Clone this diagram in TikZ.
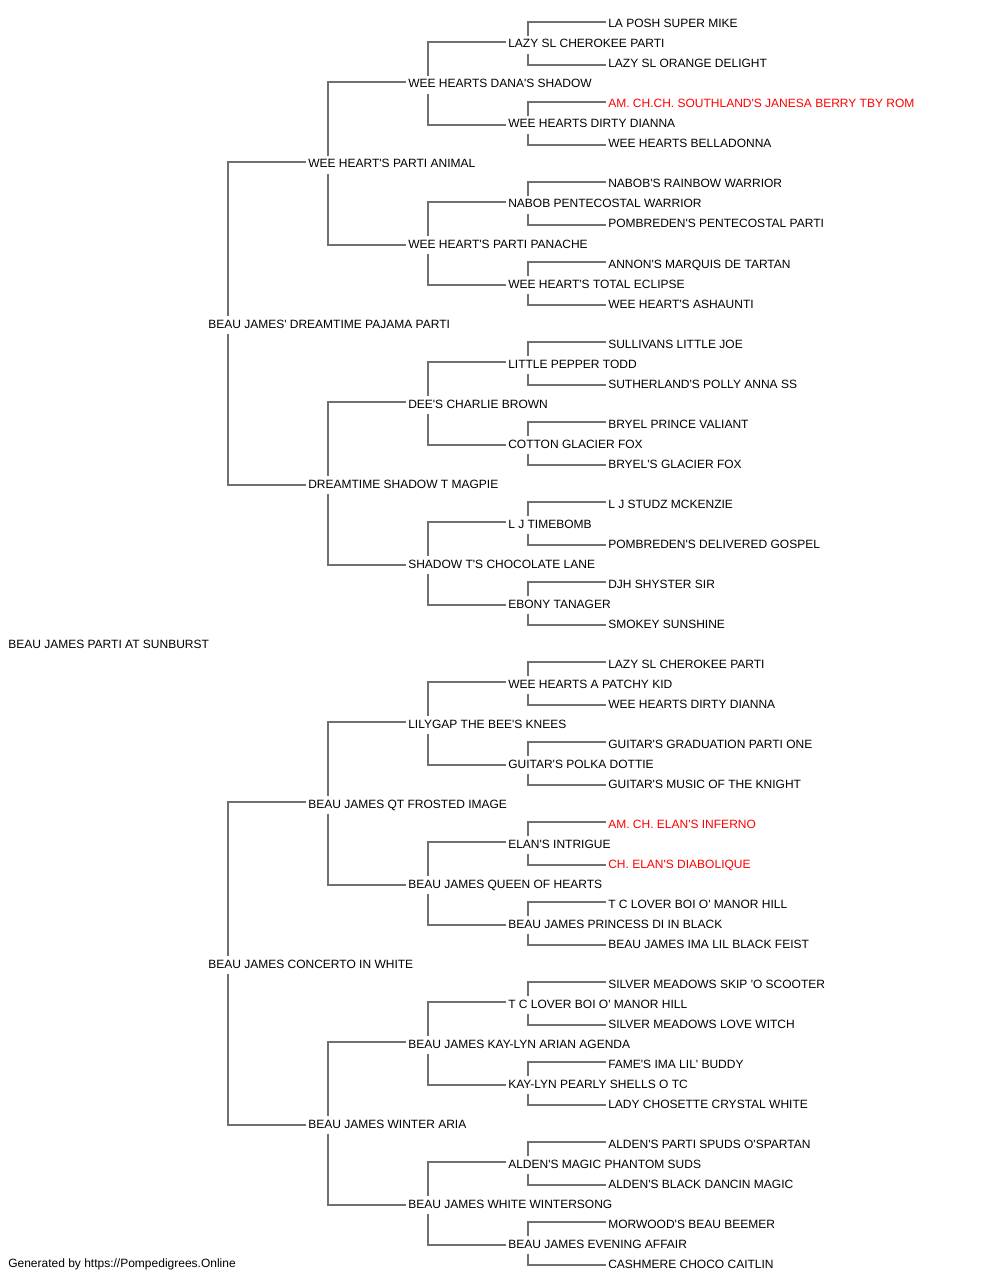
\documentclass[tikz,border=0pt]{standalone}
\usepackage{fontspec}
\newfontfamily\pedfont{Liberation Sans}
\definecolor{linkgray}{RGB}{112,112,112}
\definecolor{champred}{RGB}{255,0,0}

\begin{document}
\begin{tikzpicture}[
x=0.75pt, y=-0.75pt,
dog/.style={
  anchor=base west,
  inner xsep=1.5pt,
  inner ysep=0pt,
  text height=9pt,
  text depth=4.5pt,
  font=\pedfont\fontsize{9pt}{10pt}\selectfont
  },
champ/.style={dog, text=champred},
link/.style={draw=linkgray, line width=0.8pt}
]
\useasboundingbox (0,0) rectangle (1000,1280);
% subject
\node[dog] (g0-0) at (6,648) {BEAU JAMES PARTI AT SUNBURST};
% parents
\foreach \K/\Name in {0/BEAU JAMES' DREAMTIME PAJAMA PARTI,1/BEAU JAMES CONCERTO IN WHITE}
  \node[dog] (g1-\K) at (206,{328+640*\K}) {\Name};
% grandparents
\foreach \K/\Name in {0/WEE HEART'S PARTI ANIMAL,1/DREAMTIME SHADOW T MAGPIE,
  2/BEAU JAMES QT FROSTED IMAGE,3/BEAU JAMES WINTER ARIA}
  \node[dog] (g2-\K) at (306,{168+320*\K}) {\Name};
% great-grandparents
\foreach \K/\Name in {0/WEE HEARTS DANA'S SHADOW,1/WEE HEART'S PARTI PANACHE,
  2/DEE'S CHARLIE BROWN,3/SHADOW T'S CHOCOLATE LANE,4/LILYGAP THE BEE'S KNEES,
  5/BEAU JAMES QUEEN OF HEARTS,6/BEAU JAMES KAY-LYN ARIAN AGENDA,
  7/BEAU JAMES WHITE WINTERSONG}
  \node[dog] (g3-\K) at (406,{88+160*\K}) {\Name};
% generation 4
\foreach \K/\Name in {0/LAZY SL CHEROKEE PARTI,1/WEE HEARTS DIRTY DIANNA,
  2/NABOB PENTECOSTAL WARRIOR,3/WEE HEART'S TOTAL ECLIPSE,4/LITTLE PEPPER TODD,
  5/COTTON GLACIER FOX,6/L J TIMEBOMB,7/EBONY TANAGER,8/WEE HEARTS A PATCHY KID,
  9/GUITAR'S POLKA DOTTIE,10/ELAN'S INTRIGUE,11/BEAU JAMES PRINCESS DI IN BLACK,
  12/T C LOVER BOI O' MANOR HILL,13/KAY-LYN PEARLY SHELLS O TC,
  14/ALDEN'S MAGIC PHANTOM SUDS,15/BEAU JAMES EVENING AFFAIR}
  \node[dog] (g4-\K) at (506,{48+80*\K}) {\Name};
% generation 5
\foreach \K/\Sty/\Name in {0/dog/LA POSH SUPER MIKE,1/dog/LAZY SL ORANGE DELIGHT,
  2/champ/AM. CH.CH. SOUTHLAND'S JANESA BERRY TBY ROM,3/dog/WEE HEARTS BELLADONNA,
  4/dog/NABOB'S RAINBOW WARRIOR,5/dog/POMBREDEN'S PENTECOSTAL PARTI,
  6/dog/ANNON'S MARQUIS DE TARTAN,7/dog/WEE HEART'S ASHAUNTI,
  8/dog/SULLIVANS LITTLE JOE,9/dog/SUTHERLAND'S POLLY ANNA SS,
  10/dog/BRYEL PRINCE VALIANT,11/dog/BRYEL'S GLACIER FOX,
  12/dog/L J STUDZ MCKENZIE,13/dog/POMBREDEN'S DELIVERED GOSPEL,
  14/dog/DJH SHYSTER SIR,15/dog/SMOKEY SUNSHINE,
  16/dog/LAZY SL CHEROKEE PARTI,17/dog/WEE HEARTS DIRTY DIANNA,
  18/dog/GUITAR'S GRADUATION PARTI ONE,19/dog/GUITAR'S MUSIC OF THE KNIGHT,
  20/champ/AM. CH. ELAN'S INFERNO,21/champ/CH. ELAN'S DIABOLIQUE,
  22/dog/T C LOVER BOI O' MANOR HILL,23/dog/BEAU JAMES IMA LIL BLACK FEIST,
  24/dog/SILVER MEADOWS SKIP 'O SCOOTER,25/dog/SILVER MEADOWS LOVE WITCH,
  26/dog/FAME'S IMA LIL' BUDDY,27/dog/LADY CHOSETTE CRYSTAL WHITE,
  28/dog/ALDEN'S PARTI SPUDS O'SPARTAN,29/dog/ALDEN'S BLACK DANCIN MAGIC,
  30/dog/MORWOOD'S BEAU BEEMER,31/dog/CASHMERE CHOCO CAITLIN}
  \node[\Sty] (g5-\K) at (606,{28+40*\K}) {\Name};
% brackets from each dog to its sire and dam
\foreach \D in {1,...,4} {
  \pgfmathtruncatemacro\E{\D+1}
  \pgfmathtruncatemacro\Last{2^\D-1}
  \foreach \K in {0,...,\Last} {
    \pgfmathtruncatemacro\A{2*\K}
    \pgfmathtruncatemacro\B{2*\K+1}
    \draw[link] ([xshift=16.5pt]g\D-\K.north west) |- ([yshift=2.25pt]g\E-\A.west);
    \draw[link] ([xshift=16.5pt]g\D-\K.south west) |- (g\E-\B.west);
  }
}
\node[dog] (credit) at (6,1267.5) {Generated by https://Pompedigrees.Online};
\end{tikzpicture}
\end{document}
